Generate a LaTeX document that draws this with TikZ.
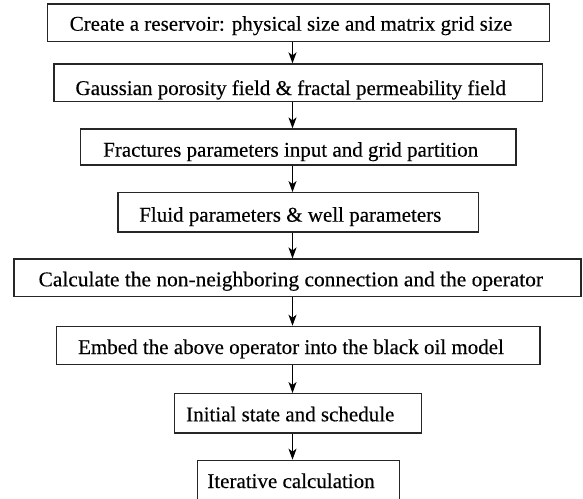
\documentclass[tikz,border=0pt]{standalone}
\usepackage{fontspec}
\setmainfont{Liberation Serif}
\newfontfamily\stepfont{Liberation Serif}[FakeBold=0.3]
\usetikzlibrary{arrows.meta}
\begin{document}
\begin{tikzpicture}[x=1pt,y=-1pt,
  stepbox/.style={draw=black!85,line width=1.2pt,rectangle,inner sep=0pt},
  steptext/.style={anchor=base,inner sep=0pt,font=\stepfont\fontsize{21}{25}\selectfont},
  arr/.style={draw=black,line width=1.2pt,-{Stealth[length=11pt,width=8pt,inset=3pt]}}]
\useasboundingbox (0,0) rectangle (583,498);
\coordinate (ax) at (292.5,0);
\node[stepbox,minimum width=502pt,minimum height=37.7pt] (b1) at (298.3,22.8) {};
\node[stepbox,minimum width=488.7pt,minimum height=37.7pt] (b2) at (298.3,82.8) {};
\node[stepbox,minimum width=435.3pt,minimum height=36pt] (b3) at (298.3,147) {};
\node[stepbox,minimum width=360.3pt,minimum height=39.3pt] (b4) at (298.2,212.3) {};
\node[stepbox,minimum width=567pt,minimum height=37.3pt] (b5) at (297.5,277.7) {};
\node[stepbox,minimum width=483.3pt,minimum height=38.3pt] (b6) at (298.3,345.5) {};
\node[stepbox,minimum width=247.4pt,minimum height=39.3pt] (b7) at (298,413.3) {};
\node[stepbox,minimum width=202pt,minimum height=40pt] (b8) at (298.3,480.3) {};
\node[steptext] (t1) at (291,30.7) {Create a reservoir: physical size and matrix grid size};
\node[steptext] (t2) at (290.7,95) {Gaussian porosity field \& fractal permeability field};
\node[steptext] (t3) at (290.7,156.7) {Fractures parameters input and grid partition};
\node[steptext] (t4) at (290.3,221.7) {Fluid parameters \& well parameters};
\node[steptext,xscale=1.02] (t5) at (290.8,286.3) {Calculate the non-neighboring connection and the operator};
\node[steptext] (t6) at (291,354) {Embed the above operator into the black oil model};
\node[steptext] (t7) at (290.3,421.3) {Initial state and schedule};
\node[steptext] (t8) at (291,488) {Iterative calculation};
\draw[arr] (b1.south -| ax) -- (b2.north -| ax);
\draw[arr] (b2.south -| ax) -- (b3.north -| ax);
\draw[arr] (b3.south -| ax) -- (b4.north -| ax);
\draw[arr] (b4.south -| ax) -- (b5.north -| ax);
\draw[arr] (b5.south -| ax) -- (b6.north -| ax);
\draw[arr] (b6.south -| ax) -- (b7.north -| ax);
\draw[arr] (b7.south -| ax) -- (b8.north -| ax);
\end{tikzpicture}
\end{document}
